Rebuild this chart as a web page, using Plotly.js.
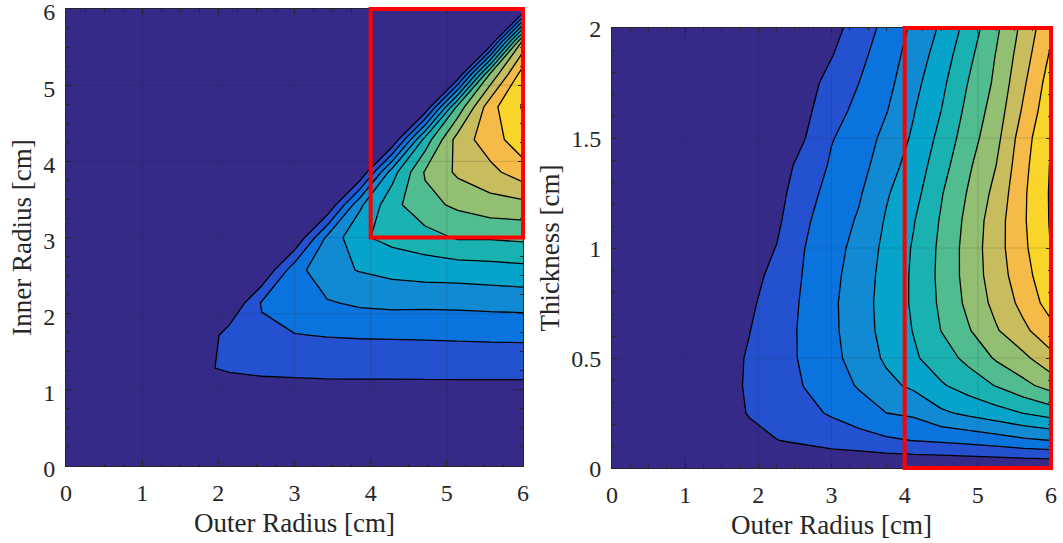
<!DOCTYPE html>
<html><head><meta charset="utf-8">
<script src="https://cdn.plot.ly/plotly-3.0.1.min.js"></script>
<style>html,body{margin:0;padding:0;background:#fff;}#chart{width:1063px;height:543px;}</style>
</head><body><div id="chart"></div>
<script>
// ---- Left panel: Outer radius (x) vs Inner radius (y) ----
const outerRadiusLeft = [0, 0.4286, 0.8571, 1.2857, 1.7143, 2.1429, 2.5714, 3.0, 3.4286, 3.8571, 4.2857, 4.7143, 5.1429, 5.5714, 6.0];
const innerRadius     = [0, 0.4286, 0.8571, 1.2857, 1.7143, 2.1429, 2.5714, 3.0, 3.4286, 3.8571, 4.2857, 4.7143, 5.1429, 5.5714, 6.0];
const valuesLeft = [
  [0, 0.02, 0.03, 0.04, 0.05, 0.05, 0.06, 0.07, 0.08, 0.08, 0.08, 0.08, 0.09, 0.09, 0.1],
  [0, 0, 0.05, 0.08, 0.1, 0.12, 0.13, 0.14, 0.15, 0.15, 0.15, 0.15, 0.15, 0.15, 0.15],
  [0, 0, 0, 0.2, 0.3, 0.35, 0.4, 0.42, 0.43, 0.44, 0.44, 0.44, 0.45, 0.45, 0.45],
  [0, 0, 0, 0, 0.87, 1.1, 1.2, 1.24, 1.28, 1.29, 1.29, 1.3, 1.3, 1.3, 1.3],
  [0, 0, 0, 0, 0, 1.46, 1.75, 1.96, 2.04, 2.08, 2.1, 2.12, 2.15, 2.18, 2.2],
  [0, 0, 0, 0, 0, 0, 2.1, 2.6, 2.91, 3.16, 3.25, 3.22, 3.25, 3.3, 3.35],
  [0, 0, 0, 0, 0, 0, 0, 2.6, 3.7, 4.05, 4.3, 4.45, 4.5, 4.6, 4.7],
  [0, 0, 0, 0, 0, 0, 0, 0, 3.2, 4.85, 5.3, 5.62, 6.1, 6.1, 6.2],
  [0, 0, 0, 0, 0, 0, 0, 0, 0, 3.8, 5.7, 6.7, 7.18, 7.6, 7.7],
  [0, 0, 0, 0, 0, 0, 0, 0, 0, 0, 4.6, 7.1, 8.18, 8.72, 9.55],
  [0, 0, 0, 0, 0, 0, 0, 0, 0, 0, 0, 5.4, 8.44, 9.55, 10.6],
  [0, 0, 0, 0, 0, 0, 0, 0, 0, 0, 0, 0, 6.3, 9.67, 11.1],
  [0, 0, 0, 0, 0, 0, 0, 0, 0, 0, 0, 0, 0, 7.2, 10.5],
  [0, 0, 0, 0, 0, 0, 0, 0, 0, 0, 0, 0, 0, 0, 8.3],
  [0, 0, 0, 0, 0, 0, 0, 0, 0, 0, 0, 0, 0, 0, 0]
];

// ---- Right panel: Outer radius (x) vs Thickness (y) ----
const outerRadiusRight = [0, 0.375, 0.75, 1.125, 1.5, 1.875, 2.25, 2.625, 3.0, 3.375, 3.75, 4.125, 4.5, 4.875, 5.25, 5.625, 6.0];
const thickness        = [0, 0.125, 0.25, 0.375, 0.5, 0.625, 0.75, 0.875, 1.0, 1.125, 1.25, 1.375, 1.5, 1.625, 1.75, 1.875, 2.0];
const valuesRight = [
  [0, 0, 0, 0, 0, 0, 0, 0, 0, 0, 0, 0, 0, 0, 0, 0, 0],
  [0, 0.02, 0.1, 0.22, 0.4, 0.7, 0.98, 1.17, 1.44, 1.6, 1.84, 2.02, 2.15, 2.3, 2.52, 2.8, 3.0],
  [0, 0.03, 0.13, 0.3, 0.56, 1.06, 1.38, 1.75, 2.1, 2.5, 3.0, 3.19, 3.83, 4.22, 4.59, 5.03, 5.43],
  [0, 0.03, 0.13, 0.31, 0.6, 1.13, 1.53, 2.02, 2.5, 3.1, 3.75, 4.19, 4.89, 5.46, 6.05, 6.72, 7.41],
  [0, 0.03, 0.12, 0.29, 0.58, 1.1, 1.6, 2.13, 2.7, 3.45, 4.15, 4.85, 5.56, 6.26, 7.12, 7.77, 8.71],
  [0, 0.03, 0.11, 0.26, 0.52, 0.97, 1.58, 2.15, 2.78, 3.58, 4.3, 5.05, 6.02, 6.92, 7.9, 8.79, 9.68],
  [0, 0.02, 0.1, 0.22, 0.44, 0.82, 1.48, 2.12, 2.8, 3.6, 4.35, 5.15, 6.18, 7.25, 8.3, 9.3, 10.45],
  [0, 0.02, 0.08, 0.19, 0.37, 0.66, 1.28, 2.06, 2.72, 3.5, 4.33, 5.15, 6.25, 7.38, 8.52, 9.6, 10.8],
  [0, 0.02, 0.07, 0.16, 0.3, 0.53, 1.03, 1.98, 2.6, 3.35, 4.25, 5.1, 6.22, 7.4, 8.6, 9.8, 11.03],
  [0, 0.02, 0.06, 0.13, 0.25, 0.42, 0.8, 1.85, 2.45, 3.12, 4.1, 4.95, 6.1, 7.3, 8.55, 9.88, 11.1],
  [0, 0.01, 0.05, 0.11, 0.2, 0.34, 0.62, 1.65, 2.3, 2.88, 3.9, 4.65, 5.92, 7.1, 8.3, 9.85, 11.12],
  [0, 0.01, 0.04, 0.09, 0.17, 0.28, 0.48, 1.35, 2.12, 2.6, 3.6, 4.4, 5.6, 6.85, 8.0, 9.72, 11.08],
  [0, 0.01, 0.04, 0.08, 0.14, 0.23, 0.38, 0.95, 1.95, 2.4, 3.3, 4.15, 5.3, 6.55, 7.7, 9.55, 10.98],
  [0, 0.01, 0.03, 0.07, 0.12, 0.19, 0.3, 0.7, 1.7, 2.2, 2.95, 3.95, 5.0, 6.3, 7.45, 9.15, 10.75],
  [0, 0.01, 0.03, 0.06, 0.1, 0.16, 0.24, 0.5, 1.4, 2.0, 2.7, 3.7, 4.75, 6.05, 7.2, 8.85, 10.5],
  [0, 0.01, 0.03, 0.05, 0.09, 0.13, 0.19, 0.35, 0.95, 1.75, 2.5, 3.45, 4.45, 5.75, 7.05, 8.55, 10.15],
  [0, 0.01, 0.02, 0.05, 0.08, 0.11, 0.15, 0.25, 0.66, 1.45, 2.3, 3.2, 4.15, 5.4, 6.8, 8.3, 9.8]
];

// contour levels and highlighted regions
const contourLevels = {start: 1, end: 11, size: 1};
const highlightLeft  = {x0: 4, x1: 6, y0: 3, y1: 6};
const highlightRight = {x0: 4, x1: 6, y0: 0, y1: 2};
const xTitle = 'Outer Radius [cm]';
const yTitleLeft = 'Inner Radius [cm]';
const yTitleRight = 'Thickness [cm]';

// parula colormap (MATLAB)
const parula = [
[0.2081,0.1663,0.5292],[0.2116,0.1898,0.5777],[0.2123,0.2138,0.6270],[0.2081,0.2386,0.6771],
[0.1959,0.2645,0.7279],[0.1707,0.2919,0.7792],[0.1253,0.3242,0.8303],[0.0591,0.3598,0.8683],
[0.0117,0.3875,0.8820],[0.0060,0.4086,0.8828],[0.0165,0.4266,0.8786],[0.0329,0.4430,0.8720],
[0.0498,0.4586,0.8641],[0.0629,0.4737,0.8554],[0.0723,0.4887,0.8467],[0.0779,0.5040,0.8384],
[0.0793,0.5200,0.8312],[0.0749,0.5375,0.8263],[0.0641,0.5570,0.8240],[0.0488,0.5772,0.8228],
[0.0343,0.5966,0.8199],[0.0265,0.6137,0.8135],[0.0239,0.6287,0.8038],[0.0231,0.6418,0.7913],
[0.0228,0.6535,0.7768],[0.0267,0.6642,0.7607],[0.0384,0.6743,0.7436],[0.0590,0.6838,0.7254],
[0.0843,0.6928,0.7062],[0.1133,0.7015,0.6859],[0.1453,0.7098,0.6646],[0.1801,0.7177,0.6424],
[0.2178,0.7250,0.6193],[0.2586,0.7317,0.5954],[0.3022,0.7376,0.5712],[0.3482,0.7424,0.5473],
[0.3953,0.7459,0.5244],[0.4420,0.7481,0.5033],[0.4871,0.7491,0.4840],[0.5300,0.7491,0.4661],
[0.5709,0.7485,0.4494],[0.6099,0.7473,0.4337],[0.6473,0.7456,0.4188],[0.6834,0.7435,0.4044],
[0.7184,0.7411,0.3905],[0.7525,0.7384,0.3768],[0.7858,0.7356,0.3633],[0.8185,0.7327,0.3498],
[0.8507,0.7299,0.3360],[0.8824,0.7274,0.3217],[0.9139,0.7258,0.3063],[0.9450,0.7261,0.2886],
[0.9739,0.7314,0.2666],[0.9938,0.7455,0.2403],[0.9990,0.7653,0.2164],[0.9955,0.7861,0.1967],
[0.9880,0.8066,0.1794],[0.9789,0.8271,0.1633],[0.9697,0.8481,0.1475],[0.9626,0.8705,0.1309],
[0.9589,0.8949,0.1132],[0.9598,0.9218,0.0948],[0.9661,0.9514,0.0755],[0.9763,0.9831,0.0538]];
const colorscale = parula.map((c, i) => [i / (parula.length - 1),
  'rgb(' + Math.round(c[0]*255) + ',' + Math.round(c[1]*255) + ',' + Math.round(c[2]*255) + ')']);

function contourTrace(x, y, z, xa, ya) {
  return {
    type: 'contour', x: x, y: y, z: z, xaxis: xa, yaxis: ya,
    colorscale: colorscale, showscale: false, autocontour: false,
    contours: {coloring: 'fill', showlines: true,
      start: contourLevels.start, end: contourLevels.end, size: contourLevels.size},
    line: {color: '#000000', width: 1.3, smoothing: 0},
    hoverinfo: 'skip'
  };
}

const W = 1063, H = 543;
const ink = '#262626';
const fontFam = '"Liberation Serif", "Times New Roman", Times, serif';

function makeAxis(domain, range, dtick, minorDtick, title, anchor, standoff, labelShift) {
  return {
    domain: domain, range: range, anchor: anchor,
    tickmode: 'linear', tick0: 0, dtick: dtick,
    ticks: 'inside', ticklen: 5, tickwidth: 1, tickcolor: ink,
    minor: {ticks: 'inside', ticklen: 3, tickwidth: 1, tickcolor: ink, tickmode: 'linear', tick0: 0, dtick: minorDtick, showgrid: false},
    showline: true, linecolor: ink, linewidth: 1, mirror: 'ticks',
    showgrid: false, zeroline: false, fixedrange: true, automargin: false,
    tickfont: {family: fontFam, size: 24, color: ink},
    ticklabelstandoff: 5, ticklabeloverflow: 'allow', ticklabelshift: labelShift,
    title: {text: title, font: {family: fontFam, size: 27, color: ink}, standoff: standoff}
  };
}

// subplot areas (pixels)
const leftBox  = {l: 66, r: 523, t: 9,  b: 466};
const rightBox = {l: 612, r: 1051, t: 28, b: 468};

const layout = {
  width: W, height: H,
  margin: {l: 0, r: 0, t: 0, b: 0, pad: 0},
  paper_bgcolor: '#ffffff', plot_bgcolor: '#ffffff',
  showlegend: false,
  font: {family: fontFam, color: ink},
  xaxis:  makeAxis([leftBox.l / W, leftBox.r / W], [0, 6], 1, 0.25, xTitle, 'y', 8, 0),
  yaxis:  makeAxis([1 - leftBox.b / H, 1 - leftBox.t / H], [0, 6], 1, 0.25, yTitleLeft, 'x', 3, 3),
  xaxis2: makeAxis([rightBox.l / W, rightBox.r / W], [0, 6], 1, 0.25, xTitle, 'y2', 8, 0),
  yaxis2: makeAxis([1 - rightBox.b / H, 1 - rightBox.t / H], [0, 2], 0.5, 0.1, yTitleRight, 'x2', 3, 1),
  shapes: []
};

// faint grid lines at the major ticks, drawn above the filled contours
const gridColor = 'rgba(38,38,38,0.16)';
function addGrid(xa, ya, xvals, yvals, xr, yr) {
  xvals.forEach(v => layout.shapes.push({type: 'line', xref: xa, yref: ya, x0: v, x1: v, y0: yr[0], y1: yr[1], line: {color: gridColor, width: 1}, layer: 'above'}));
  yvals.forEach(v => layout.shapes.push({type: 'line', xref: xa, yref: ya, x0: xr[0], x1: xr[1], y0: v, y1: v, line: {color: gridColor, width: 1}, layer: 'above'}));
}
addGrid('x', 'y', [1, 2, 3, 4, 5], [1, 2, 3, 4, 5], [0, 6], [0, 6]);
addGrid('x2', 'y2', [1, 2, 3, 4, 5], [0.5, 1, 1.5], [0, 6], [0, 2]);

// red highlight rectangles (axis-domain references so the border is not clipped)
function addBox(xa, ya, box, xr, yr) {
  layout.shapes.push({type: 'rect', xref: xa + ' domain', yref: ya + ' domain',
    x0: (box.x0 - xr[0]) / (xr[1] - xr[0]), x1: (box.x1 - xr[0]) / (xr[1] - xr[0]),
    y0: (box.y0 - yr[0]) / (yr[1] - yr[0]), y1: (box.y1 - yr[0]) / (yr[1] - yr[0]),
    line: {color: '#ff0000', width: 4}, fillcolor: 'rgba(0,0,0,0)', layer: 'above'});
}
addBox('x', 'y', highlightLeft, [0, 6], [0, 6]);
addBox('x2', 'y2', highlightRight, [0, 6], [0, 2]);

const data = [
  contourTrace(outerRadiusLeft, innerRadius, valuesLeft, 'x', 'y'),
  contourTrace(outerRadiusRight, thickness, valuesRight, 'x2', 'y2')
];

Plotly.newPlot('chart', data, layout, {staticPlot: true, displayModeBar: false});
</script>
</body></html>
